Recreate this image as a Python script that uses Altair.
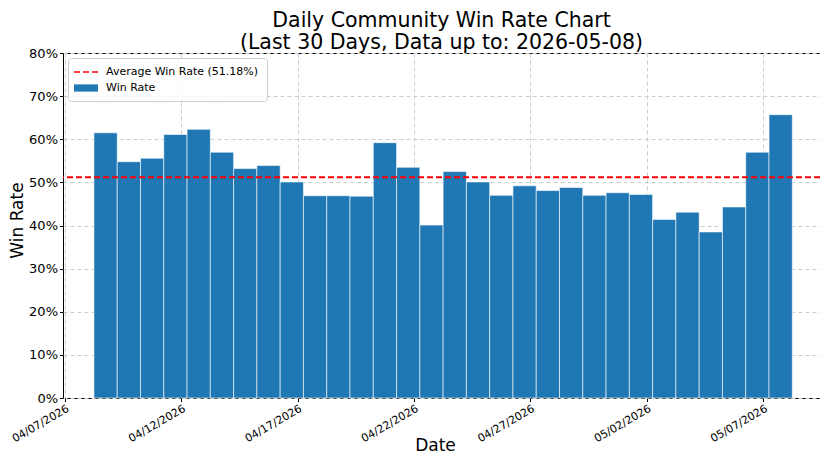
import altair as alt
import pandas as pd

# ---- data ----
dates = [d.strftime("%Y-%m-%d") for d in pd.date_range("2026-04-09", periods=30, freq="D")]
win_rate_pct = [61.5, 54.8, 55.6, 61.1, 62.3, 57.0, 53.2, 53.9, 50.1, 46.9,
                46.9, 46.8, 59.2, 53.5, 40.1, 52.5, 50.1, 47.0, 49.2, 48.1,
                48.8, 47.0, 47.6, 47.2, 41.4, 43.1, 38.5, 44.3, 57.0, 65.7]
average_pct = 51.18
avg_label = "Average Win Rate (51.18%)"
bar_label = "Win Rate"
tick_days = [(4, 7), (4, 12), (4, 17), (4, 22), (4, 27), (5, 2), (5, 7)]
title_lines = ["Daily Community Win Rate Chart", "(Last 30 Days, Data up to: 2026-05-08)"]

FONT = "DejaVu Sans"
BLUE = "#1f77b4"
RED = "#ff0000"

# bar spans (one day each) derived from the dates
day = pd.to_datetime(pd.Series(dates))
bars = pd.DataFrame({
    "date": dates,
    "start": (day - pd.Timedelta(hours=18)).dt.strftime("%Y-%m-%dT%H:%M:%SZ"),
    "end": (day + pd.Timedelta(hours=6)).dt.strftime("%Y-%m-%dT%H:%M:%SZ"),
    "rate": [v / 100 for v in win_rate_pct],
})
avg_df = pd.DataFrame({"avg": [average_pct / 100]})

x_scale = alt.Scale(
    type="utc",
    domain=[alt.DateTime(year=2026, month=4, date=6, hours=22, minutes=6, utc=True),
            alt.DateTime(year=2026, month=5, date=9, hours=10, minutes=34, utc=True)],
    nice=False,
)
y_scale = alt.Scale(domain=[0, 0.8], nice=False)

x_axis = alt.Axis(
    title="Date", values=[alt.DateTime(year=2026, month=m, date=d, utc=True) for m, d in tick_days],
    format="%m/%d/%Y", labelAngle=-30, labelAlign="right", labelBaseline="top",
    labelFontSize=11, labelPadding=1, titleFontSize=17, titlePadding=-6,
    titleX=372, titleAlign="center",
    grid=True, gridDash=[4, 3], gridColor="#cccccc", tickSize=3.5,
)
y_axis = alt.Axis(
    title="Win Rate", values=[i / 10 for i in range(9)], format=".0%",
    labelFontSize=13, labelPadding=2, titleFontSize=17, titlePadding=2,
    titleY=167, titleAlign="center",
    grid=True, gridDash=[4, 3], gridColor="#cccccc", tickSize=3.5,
)

bar_layer = alt.Chart(bars).mark_bar(
    color=BLUE, stroke="white", strokeWidth=0.7, strokeOpacity=0.85
).encode(
    x=alt.X("start:T", scale=x_scale, axis=x_axis),
    x2="end:T",
    y=alt.Y("rate:Q", scale=y_scale, axis=y_axis),
    y2=alt.datum(0),
)

avg_layer = alt.Chart(avg_df).mark_rule(
    color=RED, strokeDash=[6, 3], strokeWidth=2
).encode(y=alt.Y("avg:Q", scale=y_scale))

DASH = "M-2,-0.14H-1V0.14H-2Z M-0.5,-0.14H0.5V0.14H-0.5Z M1,-0.14H2V0.14H1Z"
RECT = "M-2,-0.6H2V0.6H-2Z"
legend = alt.Legend(
    title=None, orient="top-left", offset=5, padding=8,
    fillColor="rgba(255,255,255,0.8)", strokeColor="#cccccc", cornerRadius=3,
    labelFontSize=11, labelFont=FONT, labelColor="black", labelLimit=300,
    symbolSize=144, symbolStrokeWidth=0, symbolOffset=4, labelOffset=14, rowPadding=5,
)
legend_layer = alt.Chart(alt.Data(values=[{"series": "none"}])).transform_filter(
    "false"
).mark_point(filled=True, opacity=1).encode(
    color=alt.Color("series:N", scale=alt.Scale(domain=[avg_label, bar_label], range=[RED, BLUE]), legend=legend),
    shape=alt.Shape("series:N", scale=alt.Scale(domain=[avg_label, bar_label], range=[DASH, RECT]), legend=legend),
)

chart = alt.layer(bar_layer, avg_layer, legend_layer).properties(
    width=757, height=345,
    title=alt.TitleParams(text=title_lines, fontSize=20.5, font=FONT, fontWeight="normal",
                          color="black", anchor="middle", offset=-6.5, lineHeight=22.5),
    autosize=alt.AutoSizeParams(type="none"),
    padding={"left": 55, "top": 45, "right": 0, "bottom": 56},
).configure(font=FONT).configure_axis(
    labelFont=FONT, titleFont=FONT, labelColor="black", titleColor="black",
    titleFontWeight="normal", tickColor="black", domain=False,
).configure_view(stroke="black", strokeWidth=1)

chart.save("out.html", embed_options={"renderer": "svg", "actions": False})
